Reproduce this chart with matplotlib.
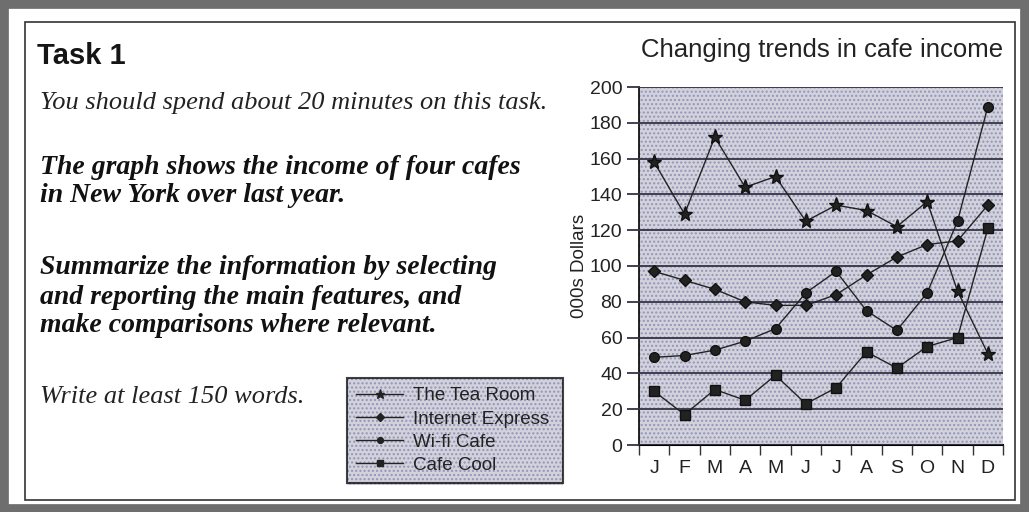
import matplotlib
matplotlib.use('Agg')
import matplotlib.pyplot as plt
from matplotlib.patches import Rectangle
from matplotlib.lines import Line2D

# data (000s dollars)
months = ['J', 'F', 'M', 'A', 'M', 'J', 'J', 'A', 'S', 'O', 'N', 'D']
tea_room = [158, 129, 172, 144, 150, 125, 134, 131, 122, 136, 86, 51]
internet_express = [97, 92, 87, 80, 78, 78, 84, 95, 105, 112, 114, 134]
wifi_cafe = [49, 50, 53, 58, 65, 85, 97, 75, 64, 85, 125, 189]
cafe_cool = [30, 17, 31, 25, 39, 23, 32, 52, 43, 55, 60, 121]
series_names = ['The Tea Room', 'Internet Express', 'Wi-fi Cafe', 'Cafe Cool']
y_ticks = [0, 20, 40, 60, 80, 100, 120, 140, 160, 180, 200]

W, H = 1029, 512
fig = plt.figure(figsize=(W / 100, H / 100), dpi=100)
fig.patch.set_facecolor('white')

sans = ['Liberation Sans', 'DejaVu Sans']
serif = ['Liberation Serif', 'DejaVu Serif']
bg = '#d2d2dc'
dots = '#9494b8'

# scanned page border
fig.patches.append(Rectangle((0.004, 0.006), 0.992, 0.986, transform=fig.transFigure,
                             fill=False, edgecolor='#6e6e6e', linewidth=7))
fig.patches.append(Rectangle((25 / W, 1 - 500 / H), 990 / W, 478 / H, transform=fig.transFigure,
                             fill=False, edgecolor='#333333', linewidth=1.2))

# left text block
fig.text(37 / W, 1 - 56 / H, 'Task 1', family=sans, fontsize=21, fontweight='bold',
         va='center', ha='left', color='#151515')
fig.text(40 / W, 1 - 103 / H, 'You should spend about 20 minutes on this task.', family=serif,
         style='italic', fontsize=19, va='center', ha='left', color='#222222')
lines_bold = [('The graph shows the income of four cafes', 168),
              ('in New York over last year.', 196),
              ('Summarize the information by selecting', 268),
              ('and reporting the main features, and', 297),
              ('make comparisons where relevant.', 325)]
for txt, yp in lines_bold:
    fig.text(40 / W, 1 - yp / H, txt, family=serif, style='italic', fontweight='bold',
             fontsize=20, va='center', ha='left', color='#111111')
fig.text(40 / W, 1 - 397 / H, 'Write at least 150 words.', family=serif, style='italic',
         fontsize=19, va='center', ha='left', color='#222222')

# chart
ax = fig.add_axes([639 / W, 1 - 445 / H, 364 / W, 358 / H])
ax.set_facecolor(bg)
ax.add_patch(Rectangle((0, 0), 1, 1, transform=ax.transAxes, fill=False, hatch='....',
                       edgecolor=dots, linewidth=0, zorder=0))
x = list(range(len(months)))
styles = [(tea_room, '*', 11), (internet_express, 'D', 6.5),
          (wifi_cafe, 'o', 7), (cafe_cool, 's', 7)]
for (vals, mk, ms), name in zip(styles, series_names):
    ax.plot(x, vals, color='#222222', linewidth=1, marker=mk, markersize=ms,
            markerfacecolor='#222222', markeredgecolor='#111111', label=name, zorder=3)

ax.set_xlim(-0.5, 11.5)
ax.set_ylim(0, 200)
ax.set_yticks(y_ticks)
ax.set_yticklabels([str(v) for v in y_ticks], family=sans, fontsize=14, color='#222222')
ax.yaxis.grid(True, color='#333344', linewidth=1.3)
ax.set_axisbelow(False)
ax.tick_params(axis='y', length=9, width=1.3, color='#333344', pad=3)
ax.set_xticks(x)
ax.set_xticklabels(months, family=sans, fontsize=14, color='#222222')
ax.set_xticks([i - 0.5 for i in range(13)], minor=True)
ax.tick_params(axis='x', which='major', length=0, pad=11)
ax.tick_params(axis='x', which='minor', length=7, width=1, color='#333333')
for s in ['top', 'right']:
    ax.spines[s].set_visible(False)
ax.spines['left'].set_linewidth(1.2)
ax.spines['bottom'].set_linewidth(1.5)
ax.set_ylabel('000s Dollars', family=sans, fontsize=13.5, labelpad=1, color='#222222')

fig.text(1003 / W, 1 - 50 / H, 'Changing trends in cafe income', family=sans, fontsize=18.5,
         ha='right', va='center', color='#222222')

# legend box, with a dotted panel behind it
fig.patches.append(Rectangle((347 / W, 1 - 485 / H), 216 / W, 107 / H, transform=fig.transFigure,
                             facecolor=bg, edgecolor='none', zorder=0))
fig.patches.append(Rectangle((347 / W, 1 - 485 / H), 216 / W, 107 / H, transform=fig.transFigure,
                             fill=False, hatch='....', edgecolor=dots, linewidth=0, zorder=0))
handles = [Line2D([], [], color='#222222', linewidth=1, marker=mk, markersize=ms * 0.6,
                  markerfacecolor='#222222') for _, mk, ms in styles]
leg = fig.legend(handles, series_names, loc='upper left', mode='expand',
                 bbox_to_anchor=(347 / W, 1 - 485 / H, 216 / W, 107 / H),
                 bbox_transform=fig.transFigure,
                 prop={'family': sans, 'size': 13.5}, frameon=True, fancybox=False,
                 handlelength=2.5, borderpad=0.5, labelspacing=0.32, handletextpad=0.5,
                 borderaxespad=0)
frame = leg.get_frame()
frame.set_facecolor('none')
frame.set_edgecolor('#111111')
frame.set_linewidth(1.5)
for t in leg.get_texts():
    t.set_color('#222222')

fig.savefig('out.png', dpi=100)
